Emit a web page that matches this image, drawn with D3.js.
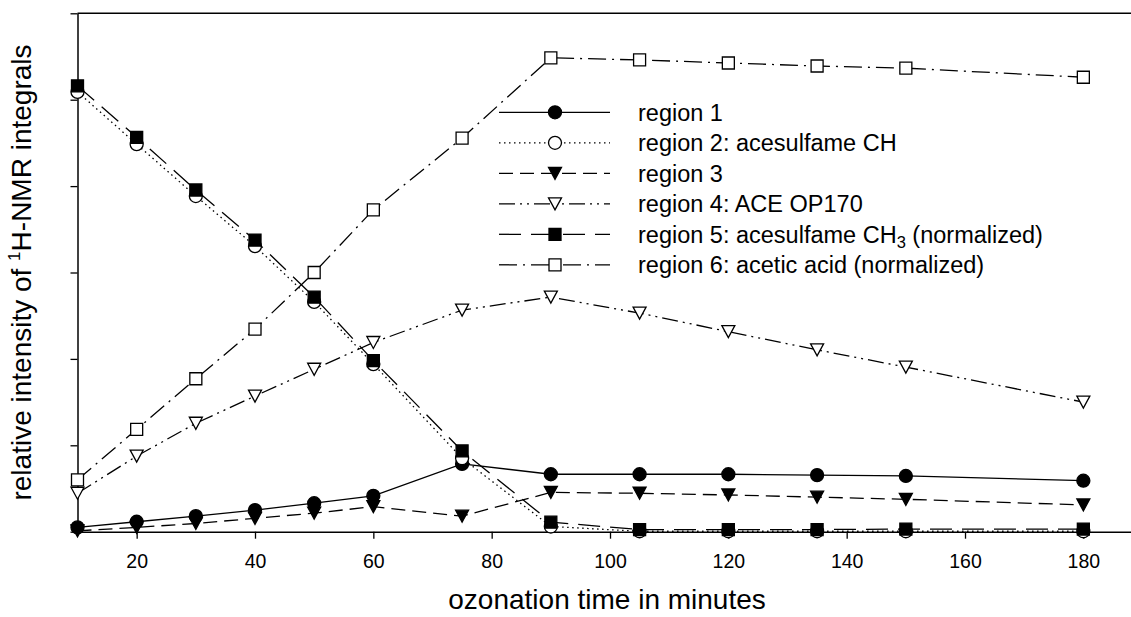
<!DOCTYPE html>
<html>
<head>
<meta charset="utf-8">
<script src="https://cdn.jsdelivr.net/npm/d3@7"></script>
<style>
  html, body { margin: 0; padding: 0; background: #fff; }
  svg { display: block; font-family: "Liberation Sans", Arial, sans-serif; }
</style>
</head>
<body>
<svg id="chart" width="1131" height="617"></svg>
<script>
// Ozonation time (minutes)
const times = [10, 20, 30, 40, 50, 60, 75, 90, 105, 120, 135, 150, 180];

// Relative 1H-NMR integrals per spectral region
const region1 = [1.0, 2.3, 3.6, 5.0, 6.6, 8.3, 15.7, 13.3, 13.3, 13.3, 13.1, 12.9, 11.8];
const region2 = [101.8, 89.7, 77.7, 66.1, 53.2, 38.8, 17.0, 1.2, 0.1, 0.1, 0.1, 0.1, 0.1];
const region3 = [0.2, 1.0, 1.9, 3.1, 4.3, 5.8, 3.6, 9.1, 8.9, 8.5, 8.0, 7.5, 6.2];
const region4 = [8.9, 17.5, 25.1, 31.4, 37.6, 43.8, 51.3, 54.3, 50.6, 46.3, 42.1, 38.1, 30.0];
const region5 = [103.2, 91.3, 79.1, 67.5, 54.3, 39.6, 18.7, 2.2, 0.5, 0.5, 0.5, 0.6, 0.6];
const region6 = [12.0, 23.7, 35.4, 46.9, 60.0, 74.5, 91.1, 109.7, 109.2, 108.5, 107.8, 107.3, 105.2];

// Legend labels: [main text, optional subscript, trailing text]
const legendLabels = [
  ["region 1", "", ""],
  ["region 2: acesulfame CH", "", ""],
  ["region 3", "", ""],
  ["region 4: ACE OP170", "", ""],
  ["region 5: acesulfame CH", "3", " (normalized)"],
  ["region 6: acetic acid (normalized)", "", ""]
];

const xTicks = [20, 40, 60, 80, 100, 120, 140, 160, 180];
const yTicks = [0, 20, 40, 60, 80, 100, 120];

// Line and symbol styles, one per region
const styles = [
  { dash: null,                 symbol: "circle",   filled: true  },
  { dash: "1.5,3.5",            symbol: "circle",   filled: false },
  { dash: "14,7",               symbol: "triangle", filled: true  },
  { dash: "16,5,2,5,2,5",       symbol: "triangle", filled: false },
  { dash: "22,10",              symbol: "square",   filled: true  },
  { dash: "18,6,2,6",           symbol: "square",   filled: false }
];

const seriesValues = [region1, region2, region3, region4, region5, region6];

const svg = d3.select("#chart");
const plotLeft = 77.5, plotTop = 13.3, plotBottom = 531.7, plotRight = 1136.6;

const x = d3.scaleLinear().domain([10, 189]).range([plotLeft, plotRight]);
const y = d3.scaleLinear().domain([0, 120]).range([plotBottom, plotTop]);

// Axes
const xAxis = d3.axisBottom(x).tickValues(xTicks).tickSize(7).tickSizeOuter(0).tickFormat(d3.format("d"));
const gx = svg.append("g").attr("transform", `translate(0,${plotBottom})`).call(xAxis);
gx.select(".domain").attr("stroke-width", 1.5);
gx.selectAll(".tick line").attr("stroke-width", 1.3);
gx.selectAll(".tick text")
  .attr("y", 36.8).attr("dy", null)
  .attr("font-size", 19.5).attr("font-family", "Liberation Sans, Arial, sans-serif")
  .attr("fill", "#000");

const yAxis = d3.axisLeft(y).tickValues(yTicks).tickSize(7).tickSizeOuter(0).tickFormat("");
const gy = svg.append("g").attr("transform", `translate(${plotLeft},0)`).call(yAxis);
gy.select(".domain").attr("stroke-width", 1.5);
gy.selectAll(".tick line").attr("stroke-width", 1.3);

// Top frame line
svg.append("line")
  .attr("x1", plotLeft).attr("x2", plotRight)
  .attr("y1", y(120)).attr("y2", y(120))
  .attr("stroke", "#000").attr("stroke-width", 1.5);

// Symbol path builders centred on (0,0)
function symbolPath(kind) {
  if (kind === "circle") {
    const r = 6.5;
    return `M${-r},0A${r},${r} 0 1,0 ${r},0A${r},${r} 0 1,0 ${-r},0Z`;
  }
  if (kind === "square") {
    const h = 6;
    return `M${-h},${-h}H${h}V${h}H${-h}Z`;
  }
  // downward pointing triangle
  const w = 6.5, h = 6;
  return `M${-w},${-h}H${w}L0,${h}Z`;
}

const line = d3.line().x((d, i) => x(times[i])).y(d => y(d));

const plot = svg.append("g");
seriesValues.forEach((vals, k) => {
  const st = styles[k];
  const g = plot.append("g");
  g.append("path")
    .attr("d", line(vals))
    .attr("fill", "none")
    .attr("stroke", "#000")
    .attr("stroke-width", 1.3)
    .attr("stroke-dasharray", st.dash);
  g.selectAll("path.sym")
    .data(vals)
    .join("path")
    .attr("class", "sym")
    .attr("d", symbolPath(st.symbol))
    .attr("transform", (d, i) => `translate(${x(times[i])},${y(d)})`)
    .attr("fill", st.filled ? "#000" : "#fff")
    .attr("stroke", "#000")
    .attr("stroke-width", 1.3);
});

// Legend
const legend = svg.append("g");
const legX0 = 499, legX1 = 610, legMark = 555, legText = 638, legY0 = 112.3, legStep = 30.5;
legendLabels.forEach((lab, k) => {
  const st = styles[k];
  const cy = legY0 + k * legStep;
  legend.append("line")
    .attr("x1", legX0).attr("x2", legX1)
    .attr("y1", cy).attr("y2", cy)
    .attr("stroke", "#000").attr("stroke-width", 1.3)
    .attr("stroke-dasharray", st.dash);
  legend.append("path")
    .attr("d", symbolPath(st.symbol))
    .attr("transform", `translate(${legMark},${cy})`)
    .attr("fill", st.filled ? "#000" : "#fff")
    .attr("stroke", "#000").attr("stroke-width", 1.3);
  const t = legend.append("text")
    .attr("x", legText).attr("y", cy + 8.3)
    .attr("font-size", 23.5).attr("fill", "#000");
  t.append("tspan").text(lab[0]);
  if (lab[1]) {
    t.append("tspan").attr("font-size", 16.5).attr("dy", 5).text(lab[1]);
    t.append("tspan").attr("dy", -5).text(lab[2]);
  }
});

// Axis titles
svg.append("text")
  .attr("x", (plotLeft + plotRight) / 2).attr("y", 609)
  .attr("text-anchor", "middle")
  .attr("font-size", 28).attr("fill", "#000")
  .text("ozonation time in minutes");

const yt = svg.append("text")
  .attr("transform", `translate(31,${(plotTop + plotBottom) / 2}) rotate(-90)`)
  .attr("text-anchor", "middle")
  .attr("font-size", 28).attr("fill", "#000");
yt.append("tspan").text("relative intensity of ");
yt.append("tspan").attr("font-size", 17).attr("dy", -11).text("1");
yt.append("tspan").attr("dy", 11).text("H-NMR integrals");
</script>
</body>
</html>
